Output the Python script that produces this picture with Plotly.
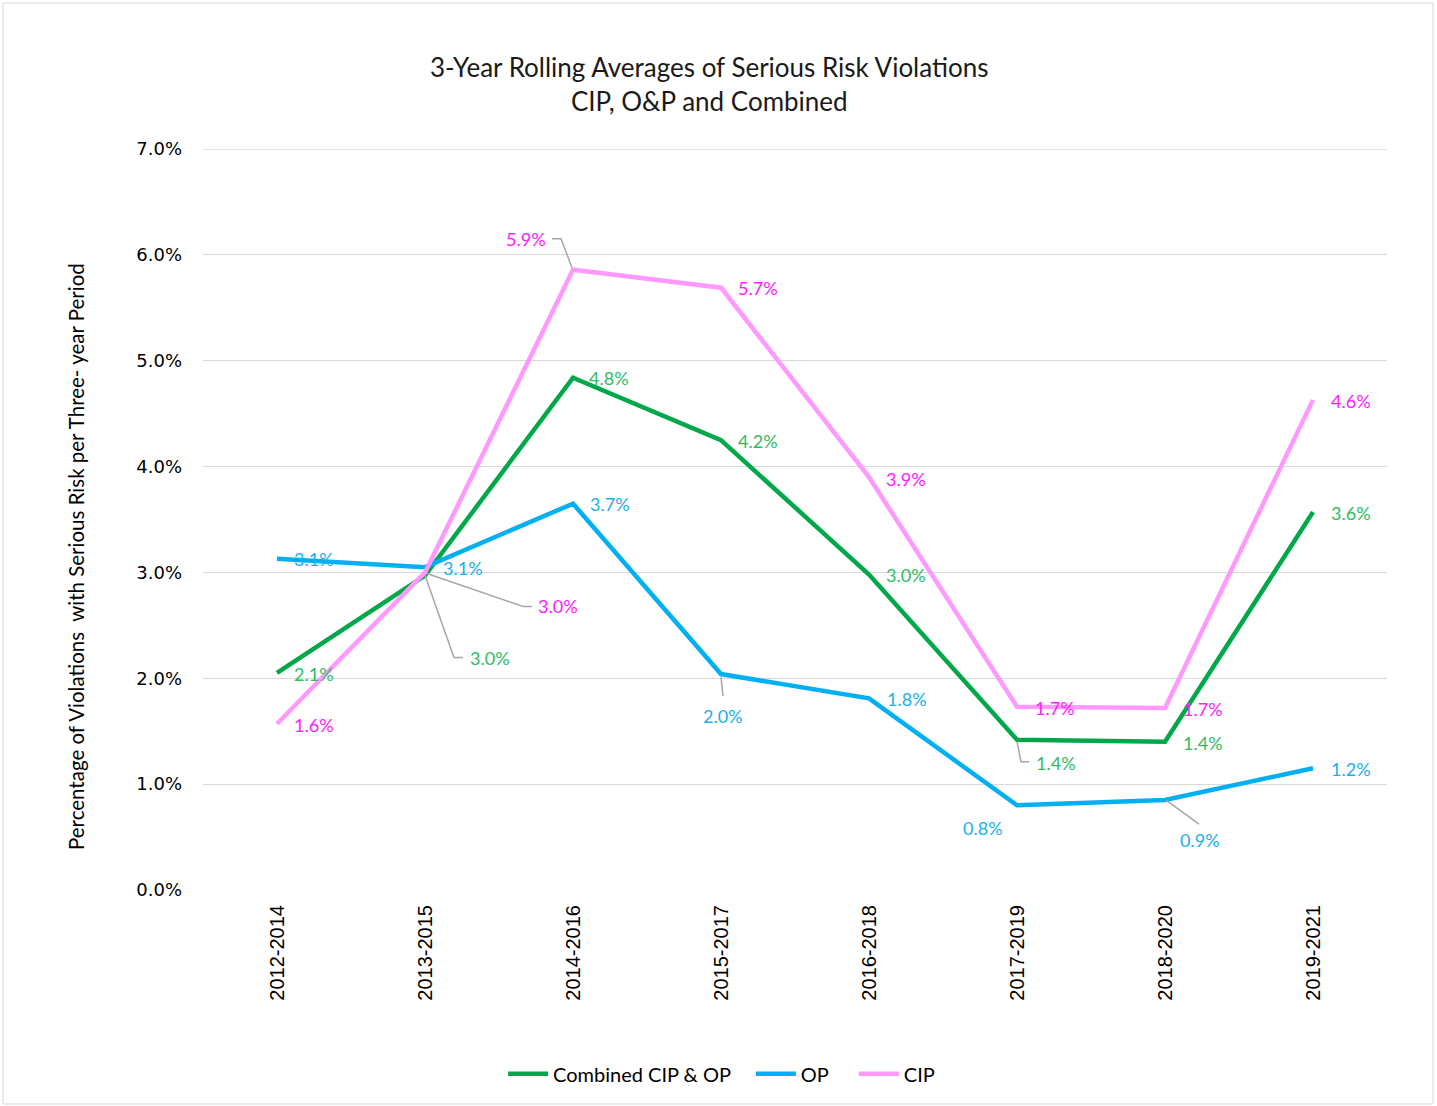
import plotly.graph_objects as go

categories = ["2012-2014", "2013-2015", "2014-2016", "2015-2017",
              "2016-2018", "2017-2019", "2018-2020", "2019-2021"]
combined = [2.05, 2.97, 4.84, 4.25, 2.98, 1.42, 1.40, 3.57]
op = [3.13, 3.05, 3.65, 2.04, 1.81, 0.80, 0.85, 1.15]
cip = [1.57, 3.00, 5.86, 5.69, 3.90, 1.73, 1.72, 4.63]
combined_labels = ["2.1%", "3.0%", "4.8%", "4.2%", "3.0%", "1.4%", "1.4%", "3.6%"]
op_labels = ["3.1%", "3.1%", "3.7%", "2.0%", "1.8%", "0.8%", "0.9%", "1.2%"]
cip_labels = ["1.6%", "3.0%", "5.9%", "5.7%", "3.9%", "1.7%", "1.7%", "4.6%"]
y_max = 7

C_GREEN, L_GREEN = "#00a84a", "#2dbd63"
C_BLUE, L_BLUE = "#00b0f0", "#1ab0ee"
C_PINK, L_PINK = "#ff99ff", "#ff1aff"
FONT = "Lato, 'Open Sans', sans-serif"
NB = "\u00a0"

# label offsets (pixels, screen: dx right, dy down) and leader paths (pixel, up positive)
comb_off = [(37, 1), (65, 82), (36, 0), (37, 1), (37, 0), (39, 23), (38, 1), (38, 1)]
op_off = [(37, 0), (38, 1), (37, 0), (2, 42), (38, 1), (-34, 23), (35, 40), (38, 1)]
cip_off = [(37, 1), (133, 34), (-47, -31), (37, 0), (37, 2), (38, 1), (38, 1), (38, 1)]
comb_lead = {1: "M0,0 L29,-82 L38,-82", 5: "M0,-2 L4,-22 L12,-22"}
op_lead = {3: "M0,-3 L2,-22", 6: "M1,0 L34,-24"}
cip_lead = {1: "M2,-1 L98,-34 L107,-34", 2: "M-1,2 L-12,31 L-21,31"}

fig = go.Figure()
for name, vals, col in [("Combined CIP & OP" + NB * 3, combined, C_GREEN),
                        ("OP" + NB * 4, op, C_BLUE), ("CIP", cip, C_PINK)]:
    fig.add_trace(go.Scatter(x=categories, y=vals, mode="lines", name=name,
                             line=dict(color=col, width=4.5)))

annotations = []
shapes = []
for vals, labels, offs, leads, col in [
        (combined, combined_labels, comb_off, comb_lead, L_GREEN),
        (op, op_labels, op_off, op_lead, L_BLUE),
        (cip, cip_labels, cip_off, cip_lead, L_PINK)]:
    for i, (c, v, t) in enumerate(zip(categories, vals, labels)):
        dx, dy = offs[i]
        annotations.append(dict(x=c, y=v, xref="x", yref="y", text=t,
                                showarrow=False, xshift=dx, yshift=-dy,
                                font=dict(family=FONT, size=18, color=col)))
        if i in leads:
            shapes.append(dict(type="path", xref="x", yref="y",
                               xsizemode="pixel", ysizemode="pixel",
                               xanchor=c, yanchor=v, path=leads[i],
                               line=dict(color="#a6a6a6", width=1.5)))

annotations.append(dict(x=-0.1073, y=0.4507, xref="paper", yref="paper",
                        xanchor="center", yanchor="middle",
                        text="Percentage of Violations  with Serious Risk per Three- year Period",
                        textangle=-90, showarrow=False,
                        font=dict(family=FONT, size=20.5, color="#000000")))
annotations.append(dict(x=0.4274, y=1.0877, xref="paper", yref="paper",
                        xanchor="center", yanchor="middle", showarrow=False,
                        text="3-Year Rolling Averages of Serious Risk Violations<br>CIP, O&P and Combined",
                        font=dict(family=FONT, size=26, color="#1a1a1a")))

shapes.append(dict(type="rect", xref="paper", yref="paper",
                   x0=-0.169, x1=1.0389, y0=-0.2888, y1=1.197,
                   line=dict(color="#d9d9d9", width=1), layer="below"))
# top gridline (plotly skips gridlines on the plot edge)
shapes.append(dict(type="line", xref="paper", yref="y", x0=0, x1=1, y0=y_max, y1=y_max,
                   line=dict(color="#d9d9d9", width=1.3), layer="below"))

fig.update_layout(
    width=1437, height=1106,
    margin=dict(l=203, r=50, t=149, b=216),
    paper_bgcolor="white", plot_bgcolor="white",
    showlegend=True,
    legend=dict(orientation="h", x=0.438, xanchor="center", y=-0.248, yanchor="middle",
                font=dict(family=FONT, size=20, color="#000000"),
                itemwidth=40, tracegroupgap=0),
    annotations=annotations, shapes=shapes,
)
fig.update_xaxes(type="category", range=[-0.5, 7.5], showgrid=False, showline=False,
                 zeroline=False, tickangle=-90, ticks="", ticklabelstandoff=10,
                 tickfont=dict(family="'Liberation Sans', Arial, sans-serif", size=20, color="#000000"))
fig.update_yaxes(range=[0, y_max], dtick=1, tickformat=".1f", ticksuffix="%",
                 showgrid=True, gridcolor="#d9d9d9", gridwidth=1.3, zeroline=False,
                 showline=False, ticks="", ticklabelstandoff=20,
                 tickfont=dict(family="'DejaVu Sans', Verdana, sans-serif", size=18, color="#000000"))

fig.write_html("out.html", config={"displayModeBar": False},
               post_script="document.body.style.margin='0px';document.body.style.padding='0px';")
